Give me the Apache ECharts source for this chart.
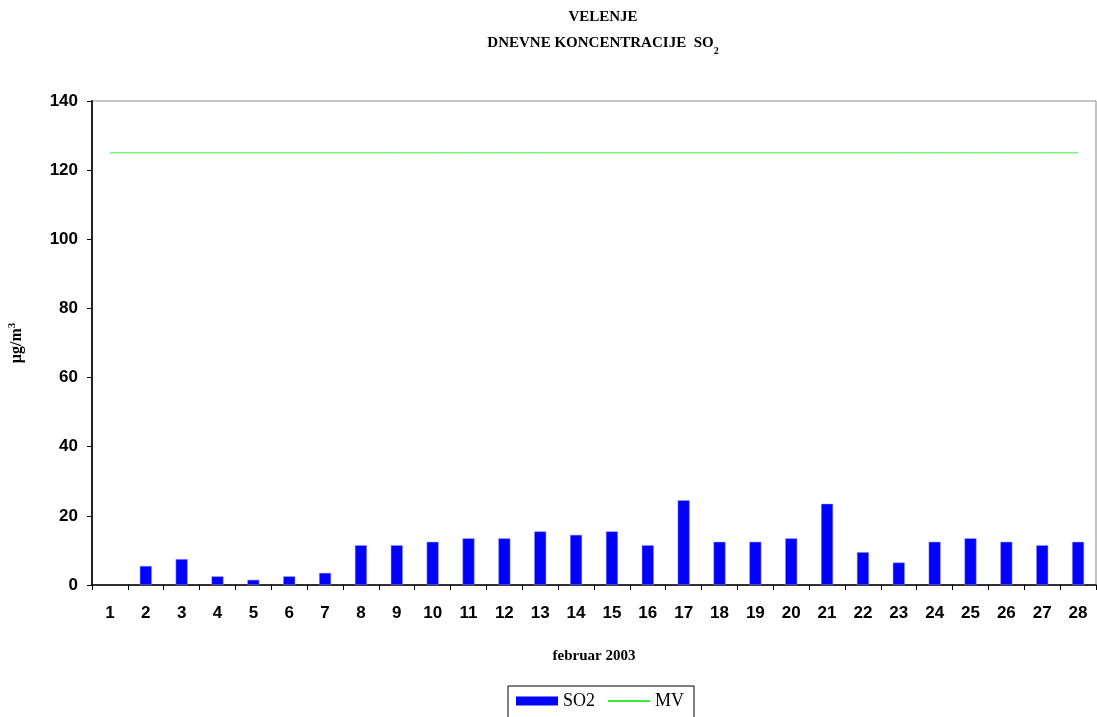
<!DOCTYPE html>
<html><head><meta charset="utf-8">
<script src="https://cdn.jsdelivr.net/npm/echarts@6/dist/echarts.min.js"></script>
<style>html,body{margin:0;padding:0;background:#fff}#c{width:1097px;height:717px}</style>
</head><body><div id="c"></div>
<script>
var days = ['1','2','3','4','5','6','7','8','9','10','11','12','13','14','15','16','17','18','19','20','21','22','23','24','25','26','27','28'];
var so2 = [null,5.5,7.5,2.5,1.5,2.5,3.5,11.5,11.5,12.5,13.5,13.5,15.5,14.5,15.5,11.5,24.5,12.5,12.5,13.5,23.5,9.5,6.5,12.5,13.5,12.5,11.5,12.5];
var mv = [125,125,125,125,125,125,125,125,125,125,125,125,125,125,125,125,125,125,125,125,125,125,125,125,125,125,125,125];
var yTicks = [0,20,40,60,80,100,120,140];

var chart = echarts.init(document.getElementById('c'));
chart.setOption({
  animation:false,
  backgroundColor:'#fff',
  title:{
    text:'VELENJE\nDNEVNE KONCENTRACIJE  SO{sub|2}',
    left:598, top:-1, textAlign:'center',
    textStyle:{fontFamily:'Liberation Serif',fontWeight:'bold',fontSize:15,color:'#000',lineHeight:26,
      rich:{sub:{fontFamily:'Liberation Serif',fontWeight:'bold',fontSize:10,color:'#000',verticalAlign:'bottom',padding:[8,0,0,0]}}}
  },
  legend:{
    left:508, top:686,
    data:[{name:'SO2',icon:'rect',itemStyle:{borderWidth:0}},{name:'MV',itemStyle:{color:'rgba(0,0,0,0)',borderWidth:0}}],
    itemWidth:42, itemHeight:9, itemGap:12,
    borderColor:'#000', borderWidth:1, borderRadius:0,
    padding:[6,10,10,8],
    textStyle:{fontFamily:'Liberation Serif',fontSize:18,color:'#000',padding:[0,0,0,0]}
  },
  grid:{left:92,right:1,top:101,bottom:132,show:true,borderColor:'#888',borderWidth:1,containLabel:false,outerBoundsMode:'none'},
  xAxis:{
    type:'category', data:days,
    name:'februar 2003', nameLocation:'middle', nameGap:64,
    nameTextStyle:{fontFamily:'Liberation Serif',fontWeight:'bold',fontSize:15,color:'#000'},
    axisLine:{lineStyle:{color:'#000',width:1.5}},
    axisTick:{show:true,length:5,lineStyle:{color:'#000'}},
    axisLabel:{fontFamily:'Liberation Sans',fontWeight:'bold',fontSize:17,color:'#000',margin:20,interval:0},
    splitLine:{show:false}
  },
  yAxis:{
    type:'value', min:0, max:140, interval:20,
    name:'µg/m{sup|3}', nameLocation:'middle', nameGap:66, nameRotate:90,
    nameTextStyle:{fontFamily:'Liberation Serif',fontWeight:'bold',fontSize:16,color:'#000',
      rich:{sup:{fontFamily:'Liberation Serif',fontWeight:'bold',fontSize:11,color:'#000',verticalAlign:'top',padding:[0,0,8,0]}}},
    axisLine:{show:true,lineStyle:{color:'#222',width:2}},
    axisTick:{show:true,length:5,lineStyle:{color:'#000'}},
    axisLabel:{fontFamily:'Liberation Sans',fontWeight:'bold',fontSize:17,color:'#000',margin:14,
      formatter:function(v){return yTicks.indexOf(v)>=0?String(v):'';}},
    splitLine:{show:false}
  },
  series:[
    {name:'SO2',type:'bar',data:so2,barWidth:12,
     itemStyle:{color:'#0000FF',borderColor:'#9999ff',borderWidth:0.5}},
    {name:'MV',type:'line',data:mv,symbol:'none',showSymbol:false,
     lineStyle:{color:'#33ee33',width:1},itemStyle:{color:'#33ee33'}}
  ]
});
</script></body></html>
